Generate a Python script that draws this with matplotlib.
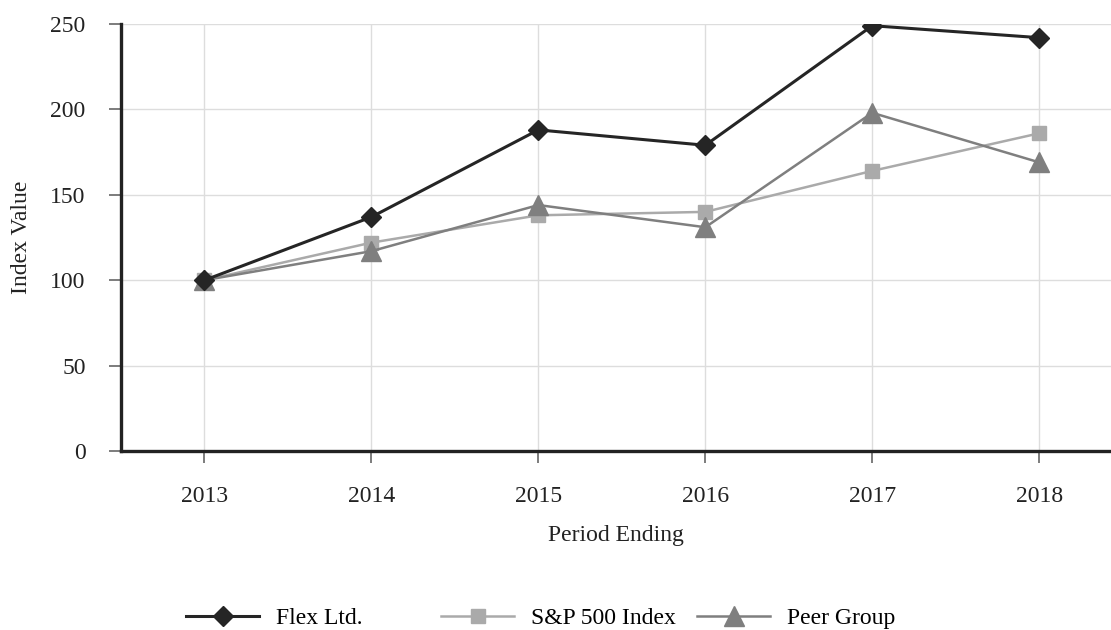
import matplotlib.pyplot as plt

# values
years = ["2013", "2014", "2015", "2016", "2017", "2018"]
flex = [100, 137, 188, 179, 249, 242]
sp500 = [100, 122, 138, 140, 164, 186]
peer = [100, 117, 144, 131, 198, 169]

plt.rcParams['font.family'] = ['Liberation Serif', 'DejaVu Serif']

fig = plt.figure(figsize=(11.11, 6.30), dpi=100)
ax = fig.add_axes([121 / 1111, 1 - 451 / 630, (1111 - 121) / 1111, (451 - 24) / 630])

x = list(range(len(years)))
l1, = ax.plot(x, flex, color='#252525', lw=2.2, marker='D', markersize=10, label='Flex Ltd.', zorder=5)
l2, = ax.plot(x, sp500, color='#aaaaaa', lw=1.8, marker='s', markersize=10, label='S&P 500 Index', zorder=3)
l3, = ax.plot(x, peer, color='#7f7f7f', lw=1.8, marker='^', markersize=14, label='Peer Group', zorder=4)

ax.set_xlim(-0.5, 5.43)
ax.set_ylim(0, 250)
ax.set_xticks(x)
ax.set_xticklabels(years)
ax.set_yticks([0, 50, 100, 150, 200, 250])

ax.grid(True, color='#dddddd', lw=1)
ax.set_axisbelow(True)
for s in ['top', 'right']:
    ax.spines[s].set_visible(False)
for s in ['left', 'bottom']:
    ax.spines[s].set_linewidth(2.4)
    ax.spines[s].set_color('#222222')

ax.tick_params(axis='both', labelsize=17, length=8.5, width=1.2, color='#666666', labelcolor='#222222')
ax.tick_params(axis='x', pad=17)
ax.tick_params(axis='y', pad=17)
ax.set_xlabel('Period Ending', fontsize=17, labelpad=13, color='#222222')
ax.set_ylabel('Index Value', fontsize=17, labelpad=13, color='#222222')

# legend columns sit at fixed positions like the reference
for h, xpos in zip([l1, l2, l3], [186, 441, 697]):
    fig.legend(handles=[h], loc='center left', bbox_to_anchor=(xpos / 1111, 1 - 618 / 630),
               frameon=False, fontsize=17, handlelength=3.1, handletextpad=0.7,
               borderpad=0, borderaxespad=0)

fig.savefig('out.png', dpi=100)
